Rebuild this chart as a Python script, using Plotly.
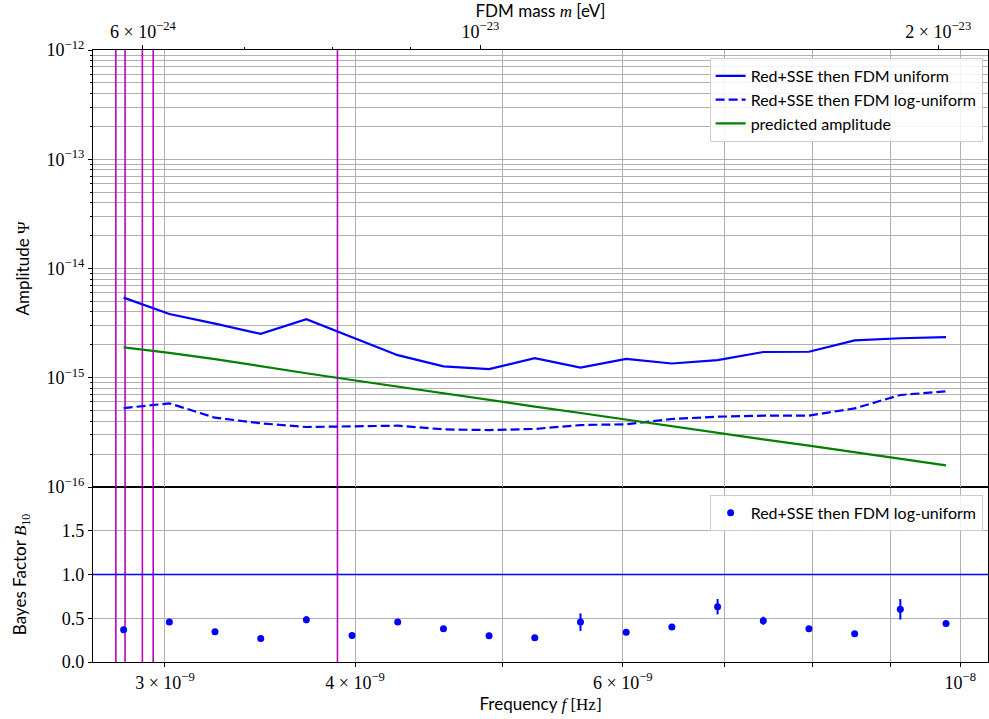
import numpy as np
import plotly.graph_objects as go

H_EV = 4.135667696e-15  # Planck constant [eV s]; FDM mass m = h f / 2

# ---- data ----
FREQ = [2.818e-9, 3.020e-9, 3.236e-9, 3.468e-9, 3.716e-9, 3.982e-9, 4.267e-9,
        4.573e-9, 4.900e-9, 5.251e-9, 5.627e-9, 6.030e-9, 6.462e-9, 6.925e-9,
        7.421e-9, 7.952e-9, 8.522e-9, 9.132e-9, 9.786e-9]
AMP_UNIFORM = [5.41e-15, 3.83e-15, 3.13e-15, 2.52e-15, 3.43e-15, 2.34e-15, 1.61e-15,
               1.27e-15, 1.20e-15, 1.51e-15, 1.24e-15, 1.49e-15, 1.35e-15, 1.45e-15,
               1.72e-15, 1.73e-15, 2.20e-15, 2.30e-15, 2.35e-15]
AMP_LOGUNIFORM = [5.28e-16, 5.83e-16, 4.31e-16, 3.83e-16, 3.54e-16, 3.59e-16, 3.64e-16,
                  3.37e-16, 3.32e-16, 3.40e-16, 3.69e-16, 3.75e-16, 4.19e-16, 4.40e-16,
                  4.50e-16, 4.50e-16, 5.25e-16, 6.95e-16, 7.51e-16]
AMP_PREDICTED = [1.90e-15, 1.69e-15, 1.48e-15, 1.27e-15, 1.10e-15, 9.54e-16, 8.28e-16,
                 7.21e-16, 6.22e-16, 5.45e-16, 4.76e-16, 4.13e-16, 3.59e-16, 3.14e-16,
                 2.73e-16, 2.39e-16, 2.08e-16, 1.82e-16, 1.58e-16]
BAYES = [0.368, 0.456, 0.345, 0.269, 0.483, 0.303, 0.456, 0.379, 0.299, 0.276,
         0.456, 0.341, 0.399, 0.632, 0.471, 0.379, 0.322, 0.602, 0.441]
BAYES_ERR = [0.015, 0.015, 0.015, 0.012, 0.04, 0.012, 0.015, 0.015, 0.012, 0.012,
             0.10, 0.015, 0.015, 0.088, 0.046, 0.015, 0.012, 0.117, 0.015]
MARKED_FREQ = [2.785e-9, 2.824e-9, 2.899e-9, 2.947e-9, 3.895e-9]
BAYES_THRESHOLD = 1.0

FREQ_RANGE_LOG = [-8.5702, -7.9818]
AMP_RANGE_LOG = [-16, -12]
BAYES_RANGE = [0, 2]

FREQ_TICKS = [3e-9, 4e-9, 5e-9, 6e-9, 7e-9, 8e-9, 9e-9, 1e-8]
FREQ_TICK_TEXT = ["3 × 10<sup>−9</sup>", "4 × 10<sup>−9</sup>", "", "6 × 10<sup>−9</sup>",
                  "", "", "", "10<sup>−8</sup>"]
MASS_TICKS = [6e-24, 1e-23, 2e-23]
MASS_TICK_TEXT = ["6 × 10<sup>−24</sup>", "10<sup>−23</sup>", "2 × 10<sup>−23</sup>"]
MASS_MINOR_TICKS = [7e-24, 8e-24, 9e-24]
AMP_TICKS = [1e-16, 1e-15, 1e-14, 1e-13, 1e-12]
AMP_TICK_TEXT = ["10<sup>−16</sup>", "10<sup>−15</sup>", "10<sup>−14</sup>",
                 "10<sup>−13</sup>", "10<sup>−12</sup>"]
AMP_MINOR_TICKS = [k * 10.0 ** e for e in range(-16, -12) for k in range(2, 10)]
BAYES_TICKS = [0.0, 0.5, 1.0, 1.5]
BAYES_TICK_TEXT = ["0.0", "0.5", "1.0", "1.5"]

SERIF = "Liberation Serif"
SANS = "Lato"
GRID = "#b0b0b0"

mass_range_log = [r + np.log10(H_EV / 2) for r in FREQ_RANGE_LOG]
bottom_frac = 175 / 612


def math(s):
    return f'<span style="font-family:{SERIF}">{s}</span>'


fig = go.Figure()

# vertical marker lines (both panels)
vx, vy_top, vy_bot = [], [], []
for f in MARKED_FREQ:
    vx += [f, f, None]
    vy_top += [10 ** AMP_RANGE_LOG[0], 10 ** AMP_RANGE_LOG[1], None]
    vy_bot += [BAYES_RANGE[0], BAYES_RANGE[1], None]
fig.add_trace(go.Scatter(x=vx, y=vy_top, xaxis="x2", yaxis="y", mode="lines",
                         line=dict(color="#bf00bf", width=1.6), showlegend=False,
                         hoverinfo="skip"))
fig.add_trace(go.Scatter(x=vx, y=vy_bot, xaxis="x", yaxis="y2", mode="lines",
                         line=dict(color="#bf00bf", width=1.6), showlegend=False,
                         hoverinfo="skip"))

fig.add_trace(go.Scatter(x=FREQ, y=AMP_UNIFORM, xaxis="x2", yaxis="y", mode="lines",
                         name="Red+SSE then FDM uniform",
                         line=dict(color="#0000ff", width=2.2), legend="legend"))
fig.add_trace(go.Scatter(x=FREQ, y=AMP_LOGUNIFORM, xaxis="x2", yaxis="y", mode="lines",
                         name="Red+SSE then FDM log-uniform",
                         line=dict(color="#0000ff", width=2.2, dash="9px,4px"),
                         legend="legend"))
fig.add_trace(go.Scatter(x=FREQ, y=AMP_PREDICTED, xaxis="x2", yaxis="y", mode="lines",
                         name="predicted amplitude",
                         line=dict(color="#008000", width=2.2), legend="legend"))

fig.add_trace(go.Scatter(x=FREQ, y=BAYES, xaxis="x", yaxis="y2", mode="markers",
                         name="Red+SSE then FDM log-uniform",
                         marker=dict(color="#0000ff", size=7),
                         error_y=dict(type="data", array=BAYES_ERR, color="#0000ff",
                                      thickness=2, width=0),
                         legend="legend2"))

# invisible anchor trace for the mass axis
fig.add_trace(go.Scatter(x=MASS_TICKS, y=[10 ** AMP_RANGE_LOG[0]] * len(MASS_TICKS),
                         xaxis="x3", yaxis="y", mode="markers",
                         marker=dict(opacity=0), showlegend=False, hoverinfo="skip"))

fig.add_shape(type="line", xref="x domain", yref="y2", x0=0, x1=1,
              y0=BAYES_THRESHOLD, y1=BAYES_THRESHOLD,
              line=dict(color="#0000ff", width=1.6))

tickfont = dict(family=SERIF, size=18, color="black")
titlefont = dict(family=SANS, size=17, color="black")
axcommon = dict(showline=True, linecolor="black", linewidth=1.2, mirror=True,
                gridcolor=GRID, gridwidth=1, zeroline=False, automargin=False)

fig.update_layout(
    width=989, height=719,
    margin=dict(l=93, r=1, t=50, b=57, autoexpand=False),
    paper_bgcolor="white", plot_bgcolor="white",
    font=dict(family=SANS, size=16, color="black"),
    xaxis=dict(type="log", range=FREQ_RANGE_LOG, domain=[0, 1], anchor="y2",
               tickmode="array", tickvals=FREQ_TICKS, ticktext=FREQ_TICK_TEXT,
               ticks="outside", ticklen=4, tickcolor="black", tickfont=tickfont,
               showgrid=True,
               title=dict(text="Frequency " + math("<i>f</i> [Hz]"), font=titlefont,
                          standoff=6),
               **axcommon),
    xaxis2=dict(type="log", range=FREQ_RANGE_LOG, domain=[0, 1], anchor="y",
                matches="x", tickmode="array", tickvals=FREQ_TICKS,
                showticklabels=False, ticks="", showgrid=True, **axcommon),
    xaxis3=dict(type="log", range=mass_range_log, overlaying="x2", anchor="y",
                side="top", tickmode="array", tickvals=MASS_TICKS,
                ticktext=MASS_TICK_TEXT, ticks="outside", ticklen=4,
                tickcolor="black", tickfont=tickfont, showgrid=False,
                showline=True, linecolor="black", linewidth=1.2, zeroline=False,
                automargin=False,
                minor=dict(tickmode="array", tickvals=MASS_MINOR_TICKS,
                           ticks="outside", ticklen=2, tickcolor="black",
                           showgrid=False),
                title=dict(text="FDM mass " + math("<i>m</i>") + " [eV]",
                           font=titlefont, standoff=2)),
    yaxis=dict(type="log", range=AMP_RANGE_LOG, domain=[bottom_frac, 1], anchor="x2",
               tickmode="array", tickvals=AMP_TICKS, ticktext=AMP_TICK_TEXT,
               ticks="outside", ticklen=4, tickcolor="black", tickfont=tickfont,
               showgrid=True,
               minor=dict(tickmode="array", tickvals=AMP_MINOR_TICKS, ticks="outside",
                          ticklen=2, tickcolor="black", showgrid=True,
                          gridcolor=GRID, gridwidth=1),
               title=dict(text="Amplitude " + math("Ψ"), font=titlefont, standoff=12),
               **axcommon),
    yaxis2=dict(range=BAYES_RANGE, domain=[0, bottom_frac], anchor="x",
                tickmode="array", tickvals=BAYES_TICKS, ticktext=BAYES_TICK_TEXT,
                ticks="outside", ticklen=4, tickcolor="black", tickfont=tickfont,
                showgrid=True,
                title=dict(text="Bayes Factor " + math("<i>B</i><sub>10</sub>"),
                           font=titlefont, standoff=30),
                **axcommon),
    legend=dict(x=0.994, y=0.987, xanchor="right", yanchor="top",
                bgcolor="rgba(255,255,255,0.85)", bordercolor="#cccccc", borderwidth=1,
                font=dict(family=SANS, size=16), tracegroupgap=0),
    legend2=dict(x=0.994, y=0.273, xanchor="right", yanchor="top",
                 bgcolor="rgba(255,255,255,0.85)", bordercolor="#cccccc", borderwidth=1,
                 font=dict(family=SANS, size=16)),
    showlegend=True,
)

fig.write_html("out.html", config={"displayModeBar": False},
               post_script="document.body.style.margin='0';document.body.style.padding='0';")
